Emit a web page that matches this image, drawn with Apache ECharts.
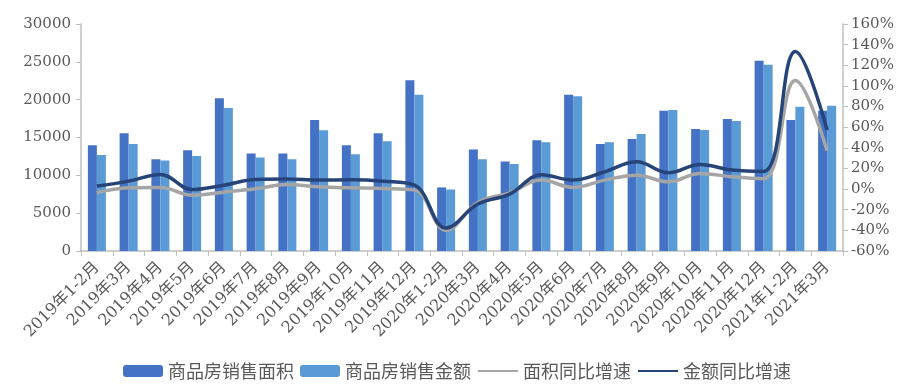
<!DOCTYPE html>
<html><head><meta charset="utf-8">
<script src="https://cdn.jsdelivr.net/npm/echarts@6/dist/echarts.min.js"></script>
<style>html,body{margin:0;padding:0;background:#fff}#c{width:914px;height:392px}</style>
</head><body><div id="c"></div>
<script>
const categories = ['2019年1-2月','2019年3月','2019年4月','2019年5月','2019年6月','2019年7月','2019年8月','2019年9月','2019年10月','2019年11月','2019年12月','2020年1-2月','2020年3月','2020年4月','2020年5月','2020年6月','2020年7月','2020年8月','2020年9月','2020年10月','2020年11月','2020年12月','2021年1-2月','2021年3月'];
const salesArea = [13970,15550,12110,13300,20190,12900,12900,17320,13960,15550,22580,8400,13430,11840,14630,20640,14140,14800,18520,16130,17450,25140,17320,18520];
const salesAmount = [12680,14140,11970,12550,18910,12370,12110,15950,12770,14490,20640,8130,12110,11490,14360,20460,14360,15470,18650,16000,17190,24610,19050,19180];
const areaYoY = [-3.6,1.2,1.5,-5.9,-3.0,0.3,4.5,2.2,1.2,0.6,-1.0,-39.9,-13,-3.6,8.7,1.6,8.7,13.5,7.1,15.2,11.9,10.0,105.2,37.2];
const amountYoY = [2.9,7.7,14.2,-0.4,3.8,9.3,9.7,8.7,9.0,7.7,3.8,-37.7,-14.5,-4.9,13.9,8.7,16.8,26.5,15.8,23.9,18.4,17.1,133.4,57.3];
const seriesNames = ['商品房销售面积','商品房销售金额','面积同比增速','金额同比增速'];

const FONT = '"DejaVu Serif","Noto Sans CJK SC",serif';
const chart = echarts.init(document.getElementById('c'));
const hideSym = {color: 'rgba(0,0,0,0)', borderColor: 'rgba(0,0,0,0)', borderWidth: 0};
chart.setOption({
  animation: false,
  textStyle: {fontFamily: FONT},
  grid: {left: 81, right: 71, top: 24, bottom: 141},
  legend: {
    data: [
      {name: seriesNames[0]},
      {name: seriesNames[1]},
      {name: seriesNames[2], itemStyle: hideSym},
      {name: seriesNames[3], itemStyle: hideSym}
    ],
    left: 'center', top: 357,
    itemWidth: 40, itemHeight: 12, itemGap: 6,
    textStyle: {fontFamily: '"Noto Sans CJK SC",sans-serif', fontSize: 18, color: '#595959'}
  },
  xAxis: {
    type: 'category', data: categories, boundaryGap: true,
    axisLine: {lineStyle: {color: '#BFBFBF', width: 1.5}},
    axisTick: {show: true, length: 5, lineStyle: {color: '#BFBFBF'}},
    axisLabel: {rotate: 45, interval: 0, fontSize: 16, color: '#595959', fontFamily: FONT, margin: 14}
  },
  yAxis: [
    {type: 'value', min: 0, max: 30000, interval: 5000,
     axisLine: {show: true, lineStyle: {color: '#BFBFBF', width: 1.5}},
     axisTick: {show: true, length: 5, lineStyle: {color: '#BFBFBF'}},
     splitLine: {show: false},
     axisLabel: {fontSize: 15, color: '#595959', fontFamily: FONT, margin: 10, formatter: v => String(v)}},
    {type: 'value', min: -60, max: 160, interval: 20,
     axisLine: {show: true, lineStyle: {color: '#BFBFBF', width: 1.5}},
     axisTick: {show: true, length: 5, lineStyle: {color: '#BFBFBF'}},
     splitLine: {show: false},
     axisLabel: {fontSize: 15, color: '#595959', fontFamily: FONT, margin: 8, formatter: '{value}%'}}
  ],
  series: [
    {name: seriesNames[0], type: 'bar', data: salesArea, barWidth: 9, barGap: '0%', itemStyle: {color: '#4472C4'}},
    {name: seriesNames[1], type: 'bar', data: salesAmount, barWidth: 9, barGap: '0%', itemStyle: {color: '#5B9BD5'}},
    {name: seriesNames[2], type: 'line', yAxisIndex: 1, data: areaYoY, smooth: 0.4, symbol: 'none', lineStyle: {color: '#A5A5A5', width: 3.5}, itemStyle: {color: '#A5A5A5'}},
    {name: seriesNames[3], type: 'line', yAxisIndex: 1, data: amountYoY, smooth: 0.4, symbol: 'none', lineStyle: {color: '#264478', width: 3.5}, itemStyle: {color: '#264478'}}
  ]
});
</script></body></html>
